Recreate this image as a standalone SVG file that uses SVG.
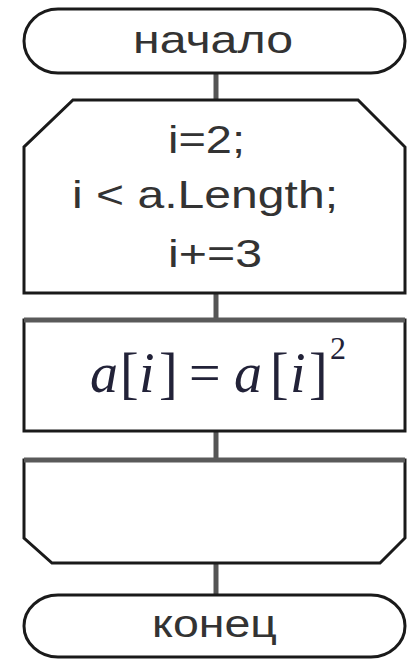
<svg xmlns="http://www.w3.org/2000/svg" width="410" height="659" viewBox="0 0 410 659">
<style>
.shape{fill:#fff;stroke:#1a1a1a;stroke-width:3}
.topbar{stroke:#5a5a5a;stroke-width:5}
.conn{stroke:#555;stroke-width:5;fill:none}
.lbl{font-family:"Liberation Sans",Arial,sans-serif;font-size:39px;fill:#333}
.math{font-family:"Liberation Serif","Times New Roman",serif;font-size:56px;fill:#222238}
</style>
<rect width="410" height="659" fill="#fff"/>
<g id="connectors">
<line class="conn" x1="216" y1="73" x2="216" y2="100"/>
<line class="conn" x1="216" y1="293" x2="216" y2="320"/>
<line class="conn" x1="216" y1="431" x2="216" y2="460"/>
<line class="conn" x1="216" y1="563" x2="216" y2="595"/>
</g>
<g id="start">
<rect class="shape" x="24" y="9" width="381" height="64" rx="34" ry="32"/>
<text class="lbl" x="133" y="53" textLength="160" lengthAdjust="spacingAndGlyphs">начало</text>
</g>
<g id="loopStart">
<polygon class="shape" points="73,100 358,100 405,147 405,293 24,293 24,147"/>
<text class="lbl" x="168" y="153" textLength="77" lengthAdjust="spacingAndGlyphs">i=2;</text>
<text class="lbl" x="72" y="208" textLength="266" lengthAdjust="spacingAndGlyphs">i &lt; a.Length;</text>
<text class="lbl" x="168" y="267" textLength="94" lengthAdjust="spacingAndGlyphs">i+=3</text>
</g>
<g id="process">
<rect class="shape" x="24" y="320" width="381" height="111"/>
<line class="topbar" x1="24" y1="320" x2="405" y2="320"/>
<text class="math" y="392"><tspan x="90" font-style="italic">a</tspan><tspan x="120">[</tspan><tspan x="139" font-style="italic">i</tspan><tspan x="159">]</tspan><tspan x="189">=</tspan><tspan x="234" font-style="italic">a</tspan><tspan x="270">[</tspan><tspan x="290" font-style="italic">i</tspan><tspan x="309">]</tspan><tspan x="330" y="359" font-size="32">2</tspan></text>
</g>
<g id="loopEnd">
<polygon class="shape" points="24,460 405,460 405,538 380,563 52,563 24,538"/>
<line class="topbar" x1="24" y1="460" x2="405" y2="460"/>
</g>
<g id="end">
<rect class="shape" x="24" y="595" width="381" height="62" rx="34" ry="31"/>
<text class="lbl" x="152" y="637" textLength="125" lengthAdjust="spacingAndGlyphs">конец</text>
</g>
</svg>
